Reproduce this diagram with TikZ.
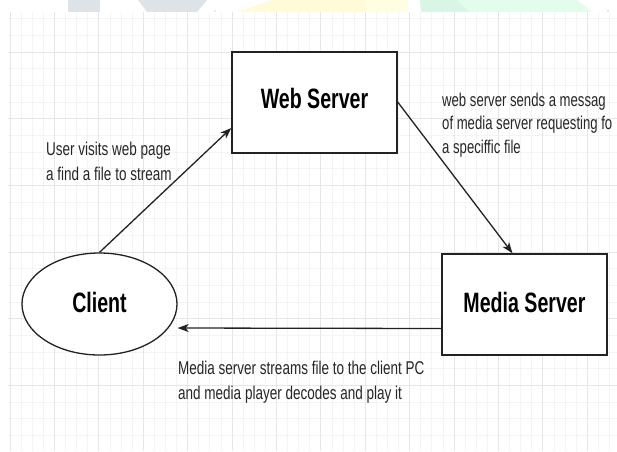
\documentclass[tikz,border=0pt]{standalone}
\usepackage{fontspec}
\usetikzlibrary{arrows.meta,shapes.geometric}
\newfontfamily\lblfont[FakeStretch=0.73]{Liberation Sans}
\newfontfamily\lblnarrowfont[FakeStretch=0.71]{Liberation Sans}
\newfontfamily\ttlfont[FakeStretch=0.70]{Liberation Sans}
\definecolor{gridminor}{HTML}{F4F4F4}
\definecolor{gridmajor}{HTML}{E6E6E6}
\definecolor{wmgray}{HTML}{DDE3E7}
\definecolor{wmyellow}{HTML}{FFFBD6}
\definecolor{wmyellowlt}{HTML}{FFFDE2}
\definecolor{wmgreen}{HTML}{D9F5E6}
\definecolor{wmgreenlt}{HTML}{E3FDEC}
\definecolor{linecol}{HTML}{222222}
\tikzset{
  minorline/.style={gridminor, line width=0.8pt},
  majorline/.style={gridmajor, line width=1pt},
  shapebox/.style={draw=linecol, line width=1.4pt, fill=white, rectangle, inner sep=0pt,
    minimum width=165pt, minimum height=101pt,
    font=\ttlfont\bfseries\fontsize{28}{30}\selectfont, text height=20pt},
  clientshape/.style={draw=linecol, line width=1.3pt, fill=white, ellipse, inner sep=0pt,
    minimum width=155pt, minimum height=102pt,
    font=\ttlfont\bfseries\fontsize{28}{30}\selectfont, text height=20pt, text depth=4pt},
  conn/.style={draw=linecol, line width=1.3pt, -{Stealth[length=11pt,width=8pt,inset=3pt]}},
  lbl/.style={anchor=north west, inner sep=0pt, align=left, text=black!85}
}
\begin{document}
\begin{tikzpicture}[x=1pt,y=-1pt]
\useasboundingbox (0,0) rectangle (617,451);
\begin{scope}
\clip (0,0) rectangle (617,451);
% watermark remnants at the top
\fill[wmgray] (68,0) rectangle (100,12);
\fill[wmgray] (138,0) -- (207,0) -- (197,12) -- (147,12) -- cycle;
\fill[wmgray] (215,11) circle (1.2);
\fill[wmyellow] (273,0) -- (365,0) -- (365,12) -- (237,12) -- cycle;
\fill[wmyellowlt] (365,0) -- (408,0) -- (408,12) -- (365,12) -- cycle;
\fill[wmgreen] (420,0) -- (457,0) -- (470,12) -- (421,12) -- cycle;
\fill[wmgreenlt] (457,0) -- (577,0) -- (593,12) -- (470,12) -- cycle;
\fill[wmgray] (608,11) circle (1.2);
% grid
\fill[white] (8,12) rectangle (617,451);
\foreach \i in {0,...,54} \draw[minorline] ({10+11.1*\i},12) -- ({10+11.1*\i},451);
\foreach \j in {0,...,25} \draw[minorline] (8,{18.67+16.667*\j}) -- (617,{18.67+16.667*\j});
\foreach \i in {0,...,13} \draw[majorline] ({10+44.4*\i},12) -- ({10+44.4*\i},451);
\foreach \j in {0,...,5} \draw[majorline] (8,{52+66.67*\j}) -- (617,{52+66.67*\j});
% nodes
\node[shapebox, text depth=8pt] (web) at (314.5,102.5) {Web Server};
\node[shapebox, text depth=5pt] (media) at (524.5,304.5) {Media Server};
\node[clientshape] (client) at (99.5,304) {Client};
% connectors
\draw[conn] (client.north) -- ([yshift=-25.5pt]web.west);
\draw[conn] ([yshift=0.5pt]web.east) -- ([xshift=-12pt]media.north);
\draw[conn] ([yshift=-24pt]media.west) -- ([yshift=-24pt]client.east);
% labels
\node[lbl, font=\lblfont\fontsize{18.5}{25}\selectfont] (lblvisit) at (46,141.5)
  {User visits web page\\a find a file to stream};
\node[lbl, font=\lblnarrowfont\fontsize{18.5}{23.5}\selectfont] (lblsend) at (442,92.5)
  {web server sends a messag\\of media server requesting fo\\a speciffic file};
\node[lbl, font=\lblfont\fontsize{18.5}{25}\selectfont] (lblstream) at (178,360.8)
  {Media server streams file to the client PC\\and media player decodes and play it};
\end{scope}
\end{tikzpicture}
\end{document}
